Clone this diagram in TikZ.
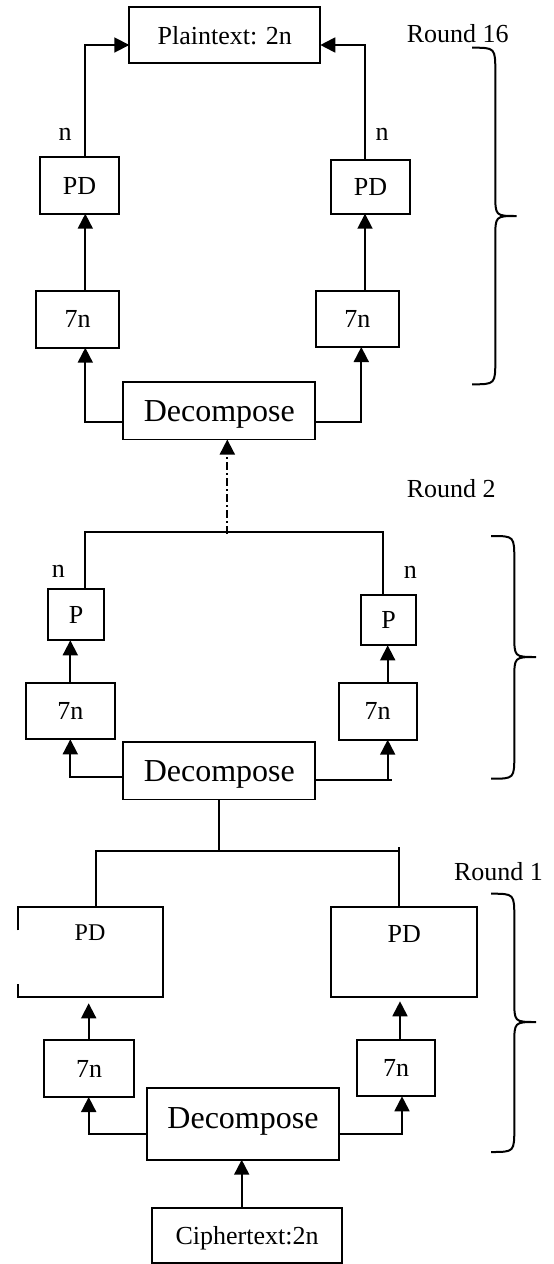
\documentclass[tikz,border=0pt]{standalone}
\usepackage{fontspec}
\setmainfont{Liberation Serif}
\usetikzlibrary{arrows.meta}
\begin{document}
\begin{tikzpicture}[x=0.5pt,y=-0.5pt,
  box/.style={draw, line width=0.9pt, inner sep=0pt, outer sep=0pt, text depth=0pt, font=\fontsize{13}{15}\selectfont},
  sz/.style 2 args={minimum width=#1*0.5pt, minimum height=#2*0.5pt},
  bigtxt/.style={font=\fontsize{16}{19}\selectfont},
  lbl/.style={font=\fontsize{13}{15}\selectfont, inner sep=0pt},
  conn/.style={line width=0.9pt},
  arr/.style={conn, -{Triangle[length=7.5pt,width=7.5pt]}},
  mydashdot/.style={dash pattern=on 4pt off 1.5pt on 1pt off 1.5pt},
  bracestyle/.style={line width=1pt},
]
\useasboundingbox (0,0) rectangle (553,1264);

% ---------- Round 16 ----------
\node[box, sz={191}{56}] (plain) at (224.8,35.3) {Plaintext: 2n};
\node[box, sz={79}{56.4}] (pdL16) at (79.5,185.5) {PD};
\node[box, sz={79}{53.7}] (pdR16) at (370.5,186.85) {PD};
\node[box, sz={83}{56.7}] (sL16) at (77.5,319.35) {7n};
\node[box, sz={82.7}{56}] (sR16) at (357.35,319) {7n};
\node[box, bigtxt, sz={192}{57.8}] (dec16) at (219.3,410.6) {Decompose};
\node[lbl] (nL16) at (65,134.3) {n};
\node[lbl] (nR16) at (382,134.3) {n};
\node[lbl] (r16) at (457.7,33.3) {Round 16};

\coordinate (cTL) at (85.3,45);
\coordinate (cTR) at (365,45);
\draw[arr] (cTL |- pdL16.north) -- (cTL) -- (cTL -| plain.west);
\draw[arr] (cTR |- pdR16.north) -- (cTR) -- (cTR -| plain.east);
\draw[arr] (cTL |- sL16.north) -- (cTL |- pdL16.south);
\draw[arr] (cTR |- sR16.north) -- (cTR |- pdR16.south);
\coordinate (cDL16) at (85.3,422);
\coordinate (cDR16) at (361.3,422);
\draw[arr] (cDL16 -| dec16.west) -- (cDL16) -- (cDL16 |- sL16.south);
\draw[arr] (cDR16 -| dec16.east) -- (cDR16) -- (cDR16 |- sR16.south);

\draw[bracestyle] (472,47.7) .. controls (495.3,47.7) .. (495.3,72) -- (495.3,194)
  .. controls (495.3,216) .. (516.7,216) .. controls (495.3,216) .. (495.3,238)
  -- (495.3,360) .. controls (495.3,384.3) .. (472,384.3);

% ---------- Round 2 ----------
\node[box, sz={55.4}{51}] (pL2) at (76,614.8) {P};
\node[box, sz={55.3}{50.6}] (pR2) at (388.65,620) {P};
\node[box, sz={89.3}{56.6}] (sL2) at (70.35,711) {7n};
\node[box, sz={78}{56.7}] (sR2) at (377.7,711.35) {7n};
\node[box, bigtxt, sz={192}{57.5}] (dec2) at (219.3,770.75) {Decompose};
\node[lbl] (nL2) at (58.3,571.7) {n};
\node[lbl] (nR2) at (410.3,572) {n};
\node[lbl] (r2) at (451.3,488.7) {Round 2};

\coordinate (cHL2) at (85.3,531.7);
\coordinate (cHR2) at (383.3,531.7);
\draw[conn] (cHL2 |- pL2.north) -- (cHL2) -- (cHR2) -- (cHR2 |- pR2.north);
\coordinate (cDD) at (227.3,533.7);
\draw[arr, mydashdot] (cDD) -- (cDD |- dec16.south);
\coordinate (cAL2) at (70.3,0);
\coordinate (cAR2) at (387.7,0);
\draw[arr] (cAL2 |- sL2.north) -- (cAL2 |- pL2.south);
\draw[arr] (cAR2 |- sR2.north) -- (cAR2 |- pR2.south);
\coordinate (cDL2) at (70.3,777);
\coordinate (cDR2) at (387.7,780.3);
\coordinate (cDR2e) at (391.7,780.3);
\draw[arr] (cDL2 -| dec2.west) -- (cDL2) -- (cDL2 |- sL2.south);
\draw[conn] (cDR2 -| dec2.east) -- (cDR2e);
\draw[arr] (cDR2) -- (cDR2 |- sR2.south);

\draw[bracestyle] (491,536) .. controls (514.3,536) .. (514.3,560) -- (514.3,635)
  .. controls (514.3,657) .. (536,657) .. controls (514.3,657) .. (514.3,679)
  -- (514.3,755) .. controls (514.3,778.7) .. (491,778.7);

% ---------- Round 1 ----------
\node[box, draw=none, sz={145.6}{90.3}] (pdL1) at (90.5,952.15) {};
\node[lbl, font=\fontsize{12}{14}\selectfont] (pdL1t) at (90,932.7) {PD};
\draw[conn] ([yshift=-11.65pt]pdL1.north west) -- (pdL1.north west) -- (pdL1.north east)
  -- (pdL1.south east) -- (pdL1.south west) -- ([yshift=6.8pt]pdL1.south west);
\node[box, sz={145.7}{90.3}] (pdR1) at (403.85,952.15) {};
\node[lbl] (pdR1t) at (404.3,933.7) {PD};
\node[box, sz={90}{56.7}] (sL1) at (89,1068.65) {7n};
\node[box, sz={78.3}{56.6}] (sR1) at (396.15,1068) {7n};
\node[box, bigtxt, text depth=6pt, sz={192.6}{71.7}] (dec1) at (243,1123.85) {Decompose};
\node[box, sz={190}{55.3}] (ciph) at (247,1235.35) {Ciphertext:2n};
\node[lbl] (r1) at (498.5,872) {Round 1};

\coordinate (cV1) at (219,851);
\draw[conn] (cV1 |- dec2.south) -- (cV1);
\coordinate (cHL1) at (96.3,851);
\coordinate (cHR1) at (398.7,851);
\draw[conn] (cHL1 |- pdL1.north) -- (cHL1) -- (cHR1);
\draw[conn] ([yshift=2pt]cHR1) -- (cHR1 |- pdR1.north);
\coordinate (cAL1) at (88.7,0);
\coordinate (cAR1) at (400,0);
\draw[arr, shorten >=3pt] (cAL1 |- sL1.north) -- (cAL1 |- pdL1.south);
\draw[arr, shorten >=2pt] (cAR1 |- sR1.north) -- (cAR1 |- pdR1.south);
\coordinate (cDL1) at (88.7,1134.3);
\coordinate (cDR1) at (402,1133.7);
\draw[arr] (cDL1 -| dec1.west) -- (cDL1) -- (cDL1 |- sL1.south);
\draw[arr] (cDR1 -| dec1.east) -- (cDR1) -- (cDR1 |- sR1.south);
\coordinate (cC) at (241.7,0);
\draw[arr] (cC |- ciph.north) -- (cC |- dec1.south);

\draw[bracestyle] (491,893.7) .. controls (514.3,893.7) .. (514.3,918) -- (514.3,1000)
  .. controls (514.3,1022) .. (536,1022) .. controls (514.3,1022) .. (514.3,1044)
  -- (514.3,1128) .. controls (514.3,1152) .. (491,1152);
\end{tikzpicture}
\end{document}
